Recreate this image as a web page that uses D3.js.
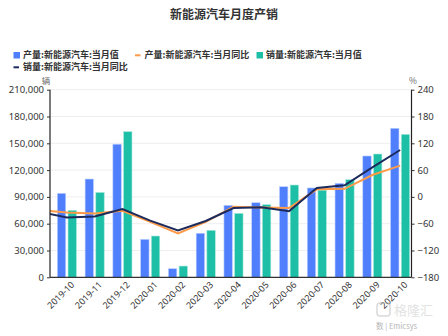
<!DOCTYPE html>
<html>
<head>
<meta charset="utf-8">
<script src="https://cdn.jsdelivr.net/npm/d3@7/dist/d3.min.js"></script>
<style>
html,body{margin:0;padding:0;background:#fff;}
svg{display:block;font-family:"Noto Sans CJK SC","Noto Sans",sans-serif;}
</style>
</head>
<body>
<svg id="chart" width="448" height="336"></svg>
<script>
const months = ["2019-10","2019-11","2019-12","2020-01","2020-02","2020-03","2020-04","2020-05","2020-06","2020-07","2020-08","2020-09","2020-10"];
const prodVal = [94000,110000,149000,42500,9600,49300,80600,83500,101400,100000,105200,135800,166800];
const salesVal = [75000,95000,163000,46200,12600,52600,71600,81300,103300,97500,109300,138000,160000];
// line series include the preceding month (2019-09), whose segment is clipped at the axis
const lineMonths = ["2019-09"].concat(months);
const prodYoY = [-29,-35,-37,-31,-56,-82,-56,-22,-24,-25,17,18,49,70];
const salesYoY = [-33,-46,-44,-27,-53,-75,-54,-25,-23,-32,20,26,66,105];
const leftTicks = [0,30000,60000,90000,120000,150000,180000,210000];
const rightTicks = [-180,-120,-60,0,60,120,180,240];
const seriesNames = ["产量:新能源汽车:当月值","产量:新能源汽车:当月同比","销量:新能源汽车:当月值","销量:新能源汽车:当月同比"];

const colors = {prod:"#4f7ffd", sales:"#1dbfa6", prodYoY:"#fd9a48", salesYoY:"#1d2b5c"};
const svg = d3.select("#chart");
const L = 50, R = 411.5, T = 89.7, B = 277.3;

const x = d3.scaleBand().domain(months).range([53, 414]);
const x1 = d3.scaleBand().domain(["prod","sales"]).range([0, x.bandwidth()]).paddingInner(0.215).paddingOuter(0.405);
const yL = d3.scaleLinear().domain([0,210000]).range([B,T]);
const yR = d3.scaleLinear().domain([-180,240]).range([B,T]);
const step = x.step();
const xIdx = i => x(months[0]) + x.bandwidth()/2 + (i-1)*step;

// title
svg.append("text").attr("x",224).attr("y",19).attr("text-anchor","middle")
  .attr("font-size",12).attr("font-weight","bold").attr("fill","#333").text("新能源汽车月度产销");

// legend
const lg = svg.append("g").attr("font-size",9).attr("font-weight","bold").attr("fill","#333");
const legendItems = [
  {name:seriesNames[0], type:"rect", color:colors.prod, x:13.5, y:55},
  {name:seriesNames[1], type:"line", color:colors.prodYoY, x:135, y:55},
  {name:seriesNames[2], type:"rect", color:colors.sales, x:256.5, y:55},
  {name:seriesNames[3], type:"line", color:colors.salesYoY, x:13.5, y:67}
];
legendItems.forEach(it=>{
  if(it.type==="rect") lg.append("rect").attr("x",it.x).attr("y",it.y-3).attr("width",6.5).attr("height",6.5).attr("fill",it.color);
  else lg.append("line").attr("x1",it.x).attr("x2",it.x+5.5).attr("y1",it.y+0.3).attr("y2",it.y+0.3).attr("stroke",it.color).attr("stroke-width",2);
  lg.append("text").attr("x",it.x+9.5).attr("y",it.y+3.2).text(it.name);
});

// units
svg.append("text").attr("x",46).attr("y",83.5).attr("text-anchor","middle").attr("font-size",8.5).attr("fill","#666").text("辆");
svg.append("text").attr("x",413).attr("y",83.5).attr("text-anchor","middle").attr("font-size",8.5).attr("fill","#666").text("%");

// grid
svg.append("g").selectAll("line").data(leftTicks.filter(d=>d>0)).join("line")
  .attr("x1",L).attr("x2",R).attr("y1",d=>yL(d)).attr("y2",d=>yL(d))
  .attr("stroke","#eeeeee").attr("stroke-width",1);

// bars
const bars = svg.append("g");
bars.selectAll(".bp").data(months).join("rect")
  .attr("x",(d)=>x(d)+x1("prod")).attr("width",x1.bandwidth())
  .attr("y",(d,i)=>yL(prodVal[i])).attr("height",(d,i)=>B-yL(prodVal[i]))
  .attr("fill",colors.prod).attr("stroke","#bcd0ff").attr("stroke-width",0.6);
bars.selectAll(".bs").data(months).join("rect")
  .attr("x",(d)=>x(d)+x1("sales")).attr("width",x1.bandwidth())
  .attr("y",(d,i)=>yL(salesVal[i])).attr("height",(d,i)=>B-yL(salesVal[i]))
  .attr("fill",colors.sales).attr("stroke","#a8e8dc").attr("stroke-width",0.6);

// lines
svg.append("clipPath").attr("id","clip").append("rect").attr("x",L).attr("y",0).attr("width",R-L).attr("height",336);
const line = d3.line().x((d,i)=>xIdx(i)).y(d=>yR(d));
const lines = svg.append("g").attr("clip-path","url(#clip)");
lines.append("path").datum(prodYoY).attr("d",line).attr("fill","none").attr("stroke",colors.prodYoY).attr("stroke-width",2);
lines.append("path").datum(salesYoY).attr("d",line).attr("fill","none").attr("stroke",colors.salesYoY).attr("stroke-width",2);

// axes
const axL = svg.append("g").attr("transform",`translate(${L},0)`)
  .call(d3.axisLeft(yL).tickValues(leftTicks).tickFormat(d3.format(",")).tickSize(3).tickPadding(3));
const axR = svg.append("g").attr("transform",`translate(${R},0)`)
  .call(d3.axisRight(yR).tickValues(rightTicks).tickSize(3).tickPadding(3));
[axL,axR].forEach(a=>{
  a.select(".domain").attr("stroke","#222").attr("stroke-width",1.2).attr("d",`M0,${T}V${B}`);
  a.selectAll(".tick line").attr("stroke","#333");
  a.selectAll("text").attr("font-size",9.5).attr("fill","#333").attr("font-family","'Noto Sans','Liberation Sans',sans-serif");
});
const axB = svg.append("g").attr("transform",`translate(0,${B})`)
  .call(d3.axisBottom(x).tickSize(0).tickPadding(4));
axB.select(".domain").attr("stroke","#333").attr("stroke-width",1.2).attr("d",`M${L},0H${R}`);
axB.selectAll("text").attr("font-size",9).attr("fill","#333")
  .attr("font-family","'Noto Sans','Liberation Sans',sans-serif")
  .attr("text-anchor","end").attr("dy","0.35em")
  .attr("transform","translate(3,3) rotate(-45)");

// watermark
const wm = svg.append("g").attr("opacity",0.55);
wm.append("rect").attr("x",377).attr("y",303).attr("width",13).attr("height",13).attr("rx",3)
  .attr("fill","none").attr("stroke","#bbb").attr("stroke-width",1.5);
wm.append("text").attr("x",394).attr("y",315).attr("font-size",13).attr("fill","#ccc").text("格隆汇");
wm.append("text").attr("x",376).attr("y",329).attr("font-size",7.5).attr("fill","#777").text("数 | Emicsys");
</script>
</body>
</html>
